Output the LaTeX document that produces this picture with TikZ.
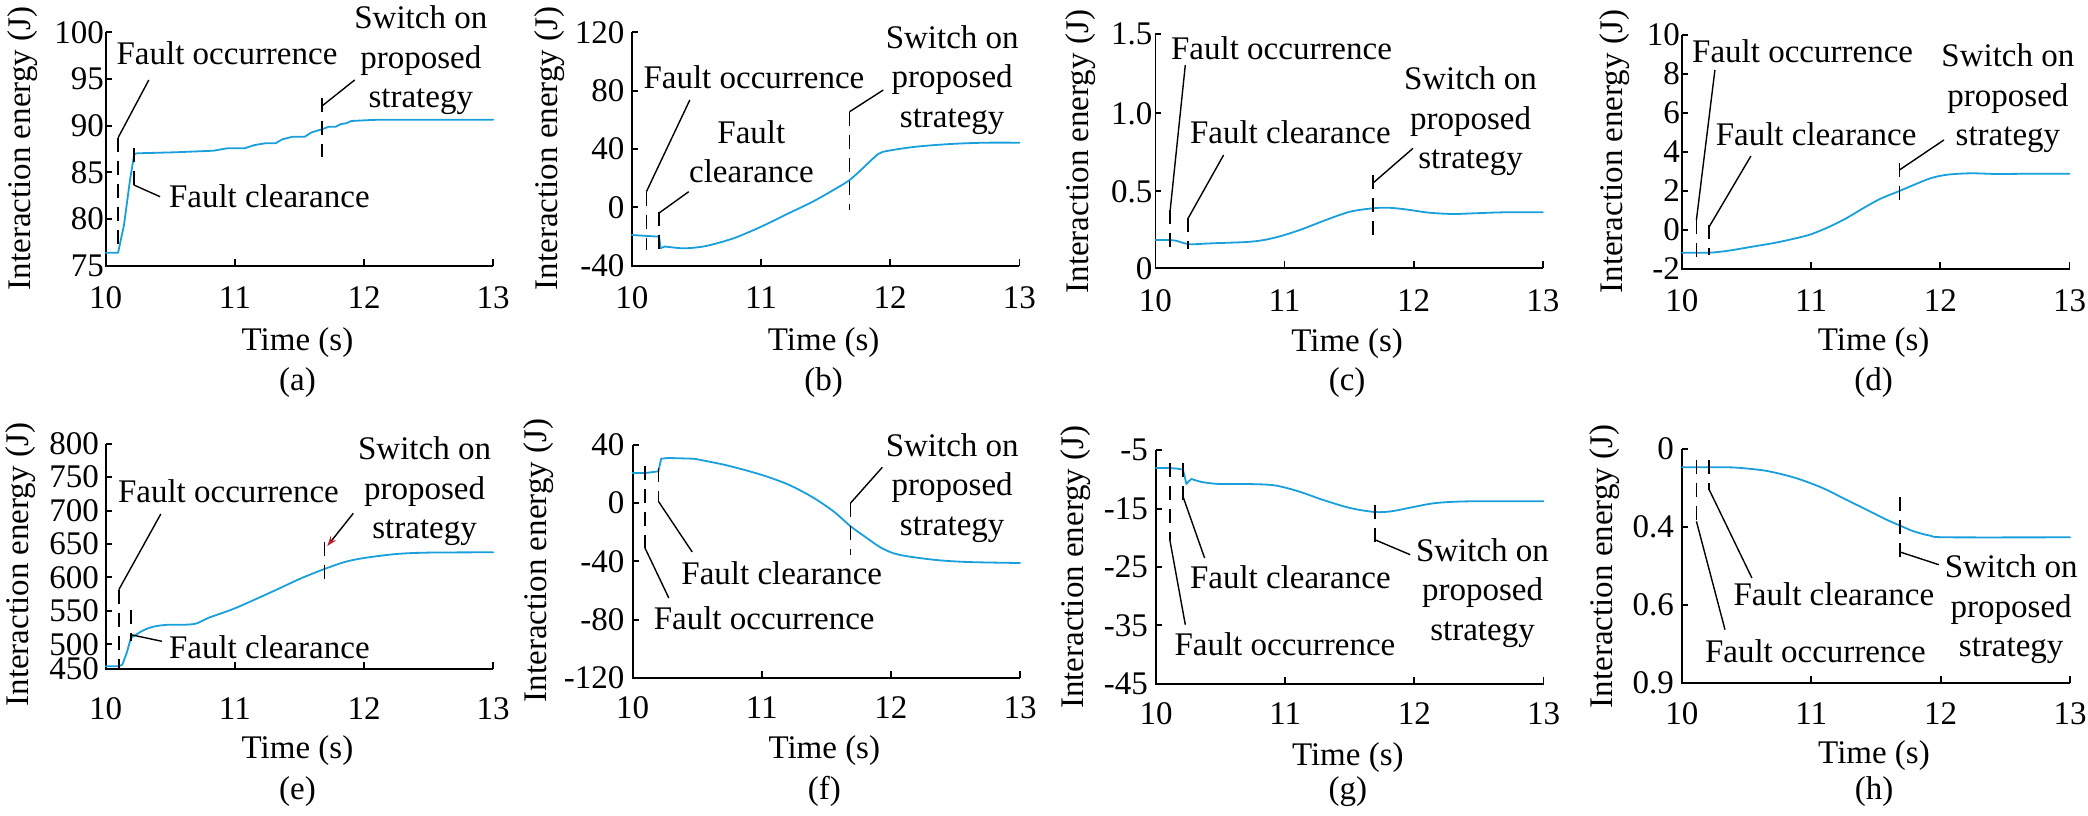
\documentclass[tikz,border=0pt]{standalone}
\usepackage{fontspec}
\setmainfont{Liberation Serif}
\usetikzlibrary{arrows.meta}
\definecolor{curveblue}{RGB}{25,160,220}
\definecolor{arrowred}{RGB}{190,30,45}
\newcommand\fs{\fontsize{33}{39.5}\selectfont}
% #1 x0, #2 x1, #3 ytop, #4 ybottom, #5 x-label baseline, #6 y-label right edge, #7 ticks, #8 id
\newcommand{\panelaxes}[8]{%
  \draw[ax] (#1,#3) -- (#1,#4) -- (#2,#4);
  \foreach \yy/\ll [count=\k] in {#7}{%
    \draw[ax] (#1,\yy) -- ++(6,0);
    \node[ytl] (#8-y\k) at (#6,\yy) {\ll};}
  \foreach \ii/\ll in {0/10,1/11,2/12,3/13}{%
    \draw[ax] ({#1+\ii*(#2-#1)/3},#4) -- ++(0,-7);
    \node[xtl] (#8-x\ii) at ({#1+\ii*(#2-#1)/3},#5) {\ll};}
}
\begin{document}
\begin{tikzpicture}[x=1pt,y=-1pt,
  ax/.style={line width=1.8pt,line join=miter},
  curve/.style={line width=1.8pt,draw=curveblue,line join=round,line cap=round},
  vdash/.style={line width=1.6pt,dash pattern=on 14pt off 9pt},
  leader/.style={line width=1.4pt},
  lbl/.style={inner sep=0pt,font=\fs},
  ytl/.style={lbl,anchor=east},
  xtl/.style={lbl,anchor=base},
  ylab/.style={lbl,rotate=90},
  capt/.style={lbl,anchor=base},
  bw/.style={lbl,anchor=base west},
  swt/.style={lbl,anchor=north,align=center}]
\fill[white] (0,0) rectangle (2088,816);
\useasboundingbox (0,0) rectangle (2088,816);

% ================= (a)
\panelaxes{105.7}{493.2}{32.3}{266}{308}{104}{32.3/100,79/95,125.7/90,172.3/85,219/80,266/75}{a}
\node[ylab] (a-yl) at (23,148.5) {Interaction energy (J)};
\node[capt] (a-xl) at (297.5,350) {Time (s)};
\node[capt] (a-cap) at (297.5,390) {(a)};
\draw[curve] (105.7,252.7) -- (118.1,252.7) -- (124,225) -- (130,180) -- (134.3,154) -- (137,153.3) -- (175,152.3) -- (213.5,150.7) -- (227.3,148.3) -- (244.5,148.3) -- (254.8,145) -- (265.2,143.3) -- (275.5,143.3) -- (282.4,139.3) -- (292.7,136.7) -- (304.8,136.7) -- (311.7,132.3) -- (322,129.3) -- (328.9,126.7) -- (335.8,126.7) -- (340.9,124) -- (346.1,123.3) -- (351.3,121) -- (365,120.3) -- (378.8,119.7) -- (493.2,119.7);
\draw[vdash] (118.1,137.7) -- (118.1,252.7);
\draw[vdash] (133.9,148.3) -- (133.9,188.3);
\draw[vdash] (322,98) -- (322,157);
\node[bw] (a-fo) at (116.4,65) {Fault occurrence};
\node[bw] (a-fc) at (168.8,207.3) {Fault clearance};
\node[swt] (a-sw) at (420.8,5.5) {Switch on\\proposed\\strategy};
\coordinate (a-fo1) at (118.1,137.7); \coordinate (a-fo2) at (148.8,80);
\coordinate (a-fc1) at (133.9,185); \coordinate (a-fc2) at (160.1,196.7);
\coordinate (a-sw1) at (322,106); \coordinate (a-sw2) at (354.7,80);
\draw[leader] (a-fo1) -- (a-fo2);
\draw[leader] (a-fc1) -- (a-fc2);
\draw[leader] (a-sw1) -- (a-sw2);

% ================= (b)
\panelaxes{631.9}{1019.4}{32.3}{265.7}{308}{624.5}{32.3/120,90.7/80,149/40,207.3/0,265.7/-40}{b}
\node[ylab] (b-yl) at (549.3,148.3) {Interaction energy (J)};
\node[capt] (b-xl) at (823.7,350) {Time (s)};
\node[capt] (b-cap) at (823.7,390) {(b)};
\draw[curve] (631.9,235) -- (659.1,236.7) -- (660.5,248.3) -- (664.6,246.5);
\draw[curve] plot[smooth,tension=0.5] coordinates {(664.6,246.5) (671.5,247.3) (685.3,248.3) (706,246) (733.5,238.3) (761.1,226.7) (788.6,213.3) (812.7,201.7) (833.4,190) (849.6,180) (864.4,166.7) (878.2,154) (888.5,150.7) (916,146.7) (950.5,144) (984.9,142.7) (1019.4,142.7)};
\draw[vdash] (646.4,191.7) -- (646.4,250);
\draw[vdash] (659.1,211.7) -- (659.1,251.7);
\draw[vdash] (849.6,111.7) -- (849.6,210);
\node[bw] (b-fo) at (643.3,88.3) {Fault occurrence};
\node[swt] (b-fc) at (751.4,120.2) {Fault\\clearance};
\node[swt] (b-sw) at (952.2,25.2) {Switch on\\proposed\\strategy};
\coordinate (b-fo1) at (646.4,191.7); \coordinate (b-fo2) at (689.8,100);
\coordinate (b-fc1) at (659.1,213); \coordinate (b-fc2) at (688.7,191.7);
\coordinate (b-sw1) at (849.6,111.7); \coordinate (b-sw2) at (883.3,90);
\draw[leader] (b-fo1) -- (b-fo2);
\draw[leader] (b-fc1) -- (b-fc2);
\draw[leader] (b-sw1) -- (b-sw2);

% ================= (c)
\panelaxes{1155.4}{1542.8}{34.3}{268.3}{311.7}{1152.5}{34.3/1.5,113.3/1.0,191.3/0.5,268.3/0}{c}
\node[ylab] (c-yl) at (1080.6,151.7) {Interaction energy (J)};
\node[capt] (c-xl) at (1347.1,351) {Time (s)};
\node[capt] (c-cap) at (1347.1,390) {(c)};
\draw[curve] plot[smooth,tension=0.5] coordinates {(1155.4,240) (1170.2,240) (1176,240.7) (1184.6,243.3) (1191.5,244.3) (1212.2,243.3) (1246.6,242) (1263.9,240) (1281.1,236) (1301.7,229.3) (1325.8,220) (1350,211.7) (1372.7,208.3) (1387.8,207.7) (1405,209.3) (1429.2,212.7) (1453.3,214) (1473.9,213.3) (1504.9,212.3) (1542.8,212.3)};
\draw[vdash] (1170.2,210) -- (1170.2,248.3);
\draw[vdash] (1188.1,218.3) -- (1188.1,249.3);
\draw[vdash] (1372.7,175) -- (1372.7,235);
\node[bw] (c-fo) at (1170.9,59.3) {Fault occurrence};
\node[bw] (c-fc) at (1189.8,143.3) {Fault clearance};
\node[swt] (c-sw) at (1470.5,66.8) {Switch on\\proposed\\strategy};
\coordinate (c-fo1) at (1170.2,210); \coordinate (c-fo2) at (1185.3,65);
\coordinate (c-fc1) at (1188.1,218.3); \coordinate (c-fc2) at (1223.6,155);
\coordinate (c-sw1) at (1372.7,183.3); \coordinate (c-sw2) at (1413,148.3);
\draw[leader] (c-fo1) -- (c-fo2);
\draw[leader] (c-fc1) -- (c-fc2);
\draw[leader] (c-sw1) -- (c-sw2);

% ================= (d)
\panelaxes{1681.9}{2069.5}{35}{269}{311.7}{1680}{35/10,74/8,113/6,152/4,191/2,230/0,269/-2}{d}
\node[ylab] (d-yl) at (1614.5,151.7) {Interaction energy (J)};
\node[capt] (d-xl) at (1873.7,350) {Time (s)};
\node[capt] (d-cap) at (1873.7,390) {(d)};
\draw[curve] plot[smooth,tension=0.5] coordinates {(1681.9,252.7) (1709.2,252.7) (1728.4,250.7) (1748.6,247.3) (1775.5,242.7) (1795.7,238.3) (1810.9,234.3) (1829.4,226.7) (1846.2,218.3) (1863.1,208.3) (1879.9,199) (1899.4,191) (1913.6,185) (1930.4,178.3) (1947.2,174.7) (1970.8,173.3) (1997.8,174) (2031.4,173.7) (2069.5,173.7)};
\draw[vdash] (1696.4,220) -- (1696.4,261.7);
\draw[vdash] (1709.2,225) -- (1709.2,255);
\draw[vdash] (1899.4,163.3) -- (1899.4,203.3);
\node[bw] (d-fo) at (1692,62.7) {Fault occurrence};
\node[bw] (d-fc) at (1715.6,145.3) {Fault clearance};
\node[swt] (d-sw) at (2007.9,43.5) {Switch on\\proposed\\strategy};
\coordinate (d-fo1) at (1696.4,220); \coordinate (d-fo2) at (1714.9,70);
\coordinate (d-fc1) at (1709.2,226.7); \coordinate (d-fc2) at (1750.9,156);
\coordinate (d-sw1) at (1899.4,170); \coordinate (d-sw2) at (1943.9,140);
\draw[leader] (d-fo1) -- (d-fo2);
\draw[leader] (d-fc1) -- (d-fc2);
\draw[leader] (d-sw1) -- (d-sw2);

% ================= (e)
\panelaxes{105.7}{493.2}{443.7}{669}{719.7}{99}{443.7/800,477/750,510.7/700,544/650,577.3/600,610.7/550,644.3/500,669/450}{e}
\node[ylab] (e-yl) at (20.7,564.7) {Interaction energy (J)};
\node[capt] (e-xl) at (297.5,758) {Time (s)};
\node[capt] (e-cap) at (297.5,799) {(e)};
\draw[curve] (105.7,666.3) -- (118.8,666.3) -- (122.3,664.7) -- (126.7,653) -- (130.9,638);
\draw[curve] plot[smooth,tension=0.5] coordinates {(130.9,638) (136,634.7) (144.6,629.7) (155,626.3) (168.8,624.7) (183.2,624.8) (196.3,623.5) (209.1,617.6) (234.9,608.3) (273.7,591) (299.5,579) (322.8,569.6) (344.7,562) (364.1,558) (396.4,554) (428.7,552.6) (493.2,552.3)};
\draw[vdash] (118.8,589.7) -- (118.8,668);
\draw[vdash] (130.9,609.7) -- (130.9,641.3);
\draw[vdash] (324.3,541.7) -- (324.3,581.7);
\node[bw] (e-fo) at (117.8,502.3) {Fault occurrence};
\node[bw] (e-fc) at (168.8,658.7) {Fault clearance};
\node[swt] (e-sw) at (424.6,436.5) {Switch on\\proposed\\strategy};
\coordinate (e-fo1) at (118.8,589.7); \coordinate (e-fo2) at (160.8,514);
\coordinate (e-fc1) at (130.9,634.7); \coordinate (e-fc2) at (161.9,641.3);
\coordinate (e-sw1) at (353.3,513.3); \coordinate (e-sw2) at (327.3,546);
\draw[leader] (e-fo1) -- (e-fo2);
\draw[leader] (e-fc1) -- (e-fc2);
\draw[leader,-{Stealth[length=10pt,width=7pt,color=arrowred]}] (e-sw1) -- (e-sw2);

% ================= (f)
\panelaxes{632.6}{1020}{444.7}{678}{718}{624.5}{444.7/40,503/0,561.3/-40,619.7/-80,678/-120}{f}
\node[ylab] (f-yl) at (539,560.5) {Interaction energy (J)};
\node[capt] (f-xl) at (824.3,758) {Time (s)};
\node[capt] (f-cap) at (824.3,799) {(f)};
\draw[curve] (632.6,473) -- (645,473) -- (650.9,472.3) -- (658.4,471.3) -- (661.2,458.7) -- (668.1,458);
\draw[curve] plot[smooth,tension=0.5] coordinates {(668.1,458) (692.2,458.7) (699.1,459.7) (726.6,465.3) (761.1,474.7) (788.6,484.7) (812.7,497.3) (833.4,511.3) (850.6,526.3) (864.4,536.3) (881.6,548) (898.8,554.7) (933.3,559.7) (967.7,562) (1020,563)};
\draw[vdash] (645,466.3) -- (645,548);
\draw[vdash] (658.4,468) -- (658.4,501.3);
\draw[vdash] (850.6,503) -- (850.6,554.7);
\node[bw] (f-fo) at (653.6,629) {Fault occurrence};
\node[bw] (f-fc) at (681.2,584) {Fault clearance};
\node[swt] (f-sw) at (952.2,433.2) {Switch on\\proposed\\strategy};
\coordinate (f-fo1) at (645,548); \coordinate (f-fo2) at (668.8,598);
\coordinate (f-fc1) at (658.4,501.3); \coordinate (f-fc2) at (692.2,552);
\coordinate (f-sw1) at (850.6,503); \coordinate (f-sw2) at (882.3,467.3);
\draw[leader] (f-fo1) -- (f-fo2);
\draw[leader] (f-fc1) -- (f-fc2);
\draw[leader] (f-sw1) -- (f-sw2);

% ================= (g)
\panelaxes{1156.1}{1543.5}{450.3}{684}{724.7}{1148}{450.3/-5,508.7/-15,567/-25,625.3/-35,684/-45}{g}
\node[ylab] (g-yl) at (1076,567.2) {Interaction energy (J)};
\node[capt] (g-xl) at (1347.8,765) {Time (s)};
\node[capt] (g-cap) at (1347.8,799.7) {(g)};
\draw[curve] (1156.1,468) -- (1169.8,468) -- (1177.8,468.7) -- (1182.9,469.7) -- (1184.6,476.3) -- (1186.4,484) -- (1188.8,481.3) -- (1191.5,479);
\draw[curve] plot[smooth,tension=0.5] coordinates {(1191.5,479) (1201.9,482) (1219.1,484) (1246.6,484) (1274.2,485.3) (1298.3,491.3) (1322.4,499.7) (1350,508) (1374.8,512) (1391.3,511.3) (1411.9,507.3) (1436,503) (1470.4,501.3) (1543.5,501.3)};
\draw[vdash] (1169.8,463) -- (1169.8,539.7);
\draw[vdash] (1182.9,463) -- (1182.9,501.3);
\draw[vdash] (1374.7,504.7) -- (1374.7,544.7);
\node[bw] (g-fo) at (1174.3,655.7) {Fault occurrence};
\node[bw] (g-fc) at (1189.8,588) {Fault clearance};
\node[swt] (g-sw) at (1482.5,538.2) {Switch on\\proposed\\strategy};
\coordinate (g-fo1) at (1169.8,539.7); \coordinate (g-fo2) at (1185.3,624.7);
\coordinate (g-fc1) at (1182.9,496.3); \coordinate (g-fc2) at (1204.6,558);
\coordinate (g-sw1) at (1374.7,539.7); \coordinate (g-sw2) at (1410.2,554.7);
\draw[leader] (g-fo1) -- (g-fo2);
\draw[leader] (g-fc1) -- (g-fc2);
\draw[leader] (g-sw1) -- (g-sw2);

% ================= (h)
\panelaxes{1681.9}{2070.1}{448.7}{683}{724.7}{1674}{448.7/0,527/0.4,604.7/0.6,683/0.9}{h}
\node[ylab] (h-yl) at (1604.4,566.3) {Interaction energy (J)};
\node[capt] (h-xl) at (1874,763) {Time (s)};
\node[capt] (h-cap) at (1874,799.7) {(h)};
\draw[curve] plot[smooth,tension=0.5] coordinates {(1681.9,467.3) (1728.4,467.3) (1748.6,468.7) (1768.8,471.3) (1795.7,478) (1822.6,488) (1846.2,499.7) (1869.8,511.3) (1886.6,519.7) (1899.4,525.3) (1913.6,531.3) (1930.4,535.7) (1947.2,537.3) (2070.1,537.3)};
\draw[vdash] (1696.4,459.7) -- (1696.4,521.3);
\draw[vdash] (1709.2,459.7) -- (1709.2,489.7);
\draw[vdash] (1900.1,497.3) -- (1900.1,561.3);
\node[bw] (h-fo) at (1704.8,662.3) {Fault occurrence};
\node[bw] (h-fc) at (1733.4,605.7) {Fault clearance};
\node[swt] (h-sw) at (2011.2,554.8) {Switch on\\proposed\\strategy};
\coordinate (h-fo1) at (1696.4,521.3); \coordinate (h-fo2) at (1725,629.7);
\coordinate (h-fc1) at (1709.2,489.7); \coordinate (h-fc2) at (1751.9,578);
\coordinate (h-sw1) at (1900.1,552); \coordinate (h-sw2) at (1938.8,564.7);
\draw[leader] (h-fo1) -- (h-fo2);
\draw[leader] (h-fc1) -- (h-fc2);
\draw[leader] (h-sw1) -- (h-sw2);
\end{tikzpicture}
\end{document}
